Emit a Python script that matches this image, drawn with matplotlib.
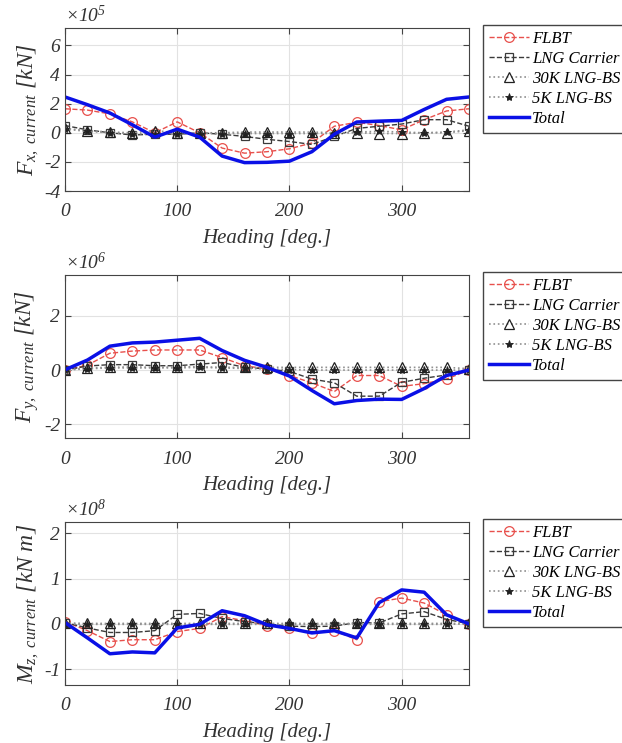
import matplotlib
matplotlib.use("Agg")
import matplotlib.pyplot as plt

plt.rcParams['font.family'] = ['Liberation Serif', 'DejaVu Serif']
plt.rcParams['font.style'] = 'italic'
plt.rcParams['mathtext.fontset'] = 'custom'
plt.rcParams['mathtext.it'] = 'Liberation Serif:italic'
plt.rcParams['mathtext.rm'] = 'Liberation Serif:italic'
plt.rcParams['axes.unicode_minus'] = False

# headings [deg.]
heading = [0, 20, 40, 60, 80, 100, 120, 140, 160, 180,
           200, 220, 240, 260, 280, 300, 320, 340, 360]

# Fx, current  (x 1e5 kN)
fx_flbt = [1.65, 1.56, 1.3, 0.75, 0.0, 0.75, 0.0, -1.05, -1.4, -1.3,
           -1.1, -0.7, 0.45, 0.72, 0.5, 0.2, 0.9, 1.5, 1.65]
fx_lng = [0.5, 0.2, 0.0, -0.15, -0.1, -0.1, 0.0, -0.1, -0.25, -0.45,
          -0.6, -0.8, -0.25, 0.3, 0.45, 0.6, 0.9, 0.9, 0.45]
fx_30k = [0.3, 0.15, 0.05, 0.0, 0.15, 0.0, 0.0, 0.0, 0.05, 0.05,
          0.05, 0.05, 0.0, 0.0, -0.05, -0.05, 0.0, 0.0, 0.15]
fx_5k = [0.25, 0.1, 0.0, -0.05, -0.1, -0.1, -0.05, -0.05, -0.05, -0.05,
         -0.05, -0.05, -0.05, 0.05, 0.1, 0.05, 0.0, 0.05, 0.2]
fx_total = [2.46, 1.93, 1.36, 0.55, -0.3, 0.25, -0.3, -1.6, -2.05, -2.03,
            -1.95, -1.3, -0.1, 0.74, 0.8, 0.85, 1.6, 2.3, 2.46]

# Fy, current  (x 1e6 kN)
fy_flbt = [0.0, 0.18, 0.62, 0.7, 0.74, 0.74, 0.74, 0.46, 0.16, 0.04,
           -0.2, -0.47, -0.79, -0.2, -0.2, -0.6, -0.5, -0.33, 0.0]
fy_lng = [0.0, 0.15, 0.2, 0.2, 0.16, 0.16, 0.22, 0.28, 0.1, 0.04,
          -0.05, -0.33, -0.47, -0.96, -0.96, -0.45, -0.3, -0.18, 0.0]
fy_30k = [0.0, 0.08, 0.1, 0.12, 0.1, 0.12, 0.12, 0.1, 0.1, 0.1,
          0.1, 0.1, 0.1, 0.1, 0.1, 0.1, 0.1, 0.1, 0.05]
fy_5k = [0.0, 0.05, 0.08, 0.08, 0.08, 0.08, 0.1, 0.08, 0.06, 0.04,
         0.02, 0.0, 0.0, 0.0, 0.0, 0.0, 0.0, 0.0, 0.0]
fy_total = [0.01, 0.37, 0.88, 1.0, 1.03, 1.1, 1.17, 0.72, 0.36, 0.1,
            -0.22, -0.75, -1.24, -1.12, -1.07, -1.08, -0.68, -0.2, 0.0]

# Mz, current  (x 1e8 kN m)
mz_flbt = [0.05, -0.15, -0.39, -0.35, -0.35, -0.17, -0.1, 0.16, 0.07, -0.04,
           -0.1, -0.2, -0.15, -0.35, 0.49, 0.57, 0.46, 0.2, 0.0]
mz_lng = [0.03, -0.09, -0.19, -0.19, -0.15, 0.21, 0.23, 0.12, 0.05, 0.0,
          -0.05, -0.06, -0.05, 0.03, 0.02, 0.22, 0.27, 0.1, 0.0]
mz_30k = [0.02, 0.01, 0.01, 0.01, 0.01, 0.01, 0.01, 0.01, 0.01, 0.01,
          0.01, 0.01, 0.01, 0.01, 0.01, 0.01, 0.01, 0.01, 0.01]
mz_5k = [0.0, -0.01, -0.01, -0.01, -0.01, -0.01, -0.01, -0.01, -0.01, -0.01,
         -0.01, -0.01, -0.01, -0.01, -0.01, -0.01, -0.01, -0.01, 0.0]
mz_total = [0.03, -0.31, -0.66, -0.62, -0.64, -0.09, -0.01, 0.29, 0.18, -0.02,
            -0.1, -0.2, -0.15, -0.31, 0.47, 0.75, 0.7, 0.2, 0.0]

panels = [
    (fx_flbt, fx_lng, fx_30k, fx_5k, fx_total, r'$\mathit{F_{x,\ current}\ [kN]}$',
     r'$\times10^{5}$', (-4, 7.2), [-4, -2, 0, 2, 4, 6]),
    (fy_flbt, fy_lng, fy_30k, fy_5k, fy_total, r'$\mathit{F_{y,\ current}\ [kN]}$',
     r'$\times10^{6}$', (-2.5, 3.5), [-2, 0, 2]),
    (mz_flbt, mz_lng, mz_30k, mz_5k, mz_total, r'$\mathit{M_{z,\ current}\ [kN\ m]}$',
     r'$\times10^{8}$', (-1.35, 2.25), [-1, 0, 1, 2]),
]

fig = plt.figure(figsize=(6.22, 7.43), dpi=100)
tops = [28, 275, 522]
for (flbt, lng, k30, k5, total, ylab, mult, ylim, yt), top in zip(panels, tops):
    ax = fig.add_axes([65 / 622, 1 - (top + 163) / 743, 404 / 622, 163 / 743])
    ax.plot(heading, flbt, '--', color='#e8504c', lw=1.0, marker='o', ms=7,
            mfc='none', mec='#e8504c', mew=0.9, label='FLBT')
    ax.plot(heading, lng, '--', color='#3a3a3a', lw=1.0, marker='s', ms=6,
            mfc='none', mec='#3a3a3a', mew=0.9, label='LNG Carrier')
    ax.plot(heading, k30, ':', color='#909090', lw=1.2, marker='^', ms=7,
            mfc='none', mec='#202020', mew=0.9, label='30K LNG-BS')
    ax.plot(heading, k5, ':', color='#909090', lw=1.2, marker='*', ms=6,
            mfc='#202020', mec='#202020', mew=0.6, label='5K LNG-BS')
    ax.plot(heading, total, '-', color='#0a10e6', lw=2.5, label='Total')

    ax.set_xlim(0, 360)
    ax.set_ylim(*ylim)
    ax.set_xticks([0, 100, 200, 300])
    ax.set_yticks(yt)
    ax.grid(True, color='#e2e2e2', lw=0.8)
    ax.set_axisbelow(True)
    ax.tick_params(direction='in', top=True, right=True, labelsize=14,
                   color='#444444', length=4)
    ax.tick_params(axis='x', pad=9)
    for s in ax.spines.values():
        s.set_color('#444444')
    ax.set_xlabel('Heading [deg.]', fontsize=15, color='#333333', labelpad=6)
    ax.set_ylabel(ylab, fontsize=17, color='#333333', labelpad=2)
    for lb in ax.get_xticklabels() + ax.get_yticklabels():
        lb.set_color('#333333')
    ax.text(0.0, 1.01, mult, transform=ax.transAxes, fontsize=14,
            color='#333333', ha='left', va='bottom')
    ax.legend(loc='upper left', bbox_to_anchor=(1.035, 1.02), borderaxespad=0,
              fancybox=False, edgecolor='#444444', framealpha=1, fontsize=12,
              handlelength=2.4, labelspacing=0.25, borderpad=0.35,
              handletextpad=0.2)

fig.savefig('out.png', dpi=100)
